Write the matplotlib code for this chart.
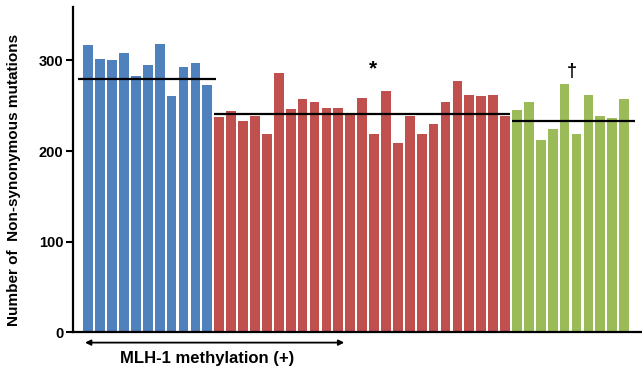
import numpy as np
import matplotlib
matplotlib.use('Agg')
import matplotlib.pyplot as plt
from matplotlib.transforms import blended_transform_factory

# bar heights, one list per group
blue_vals = [317, 302, 300, 308, 283, 295, 318, 261, 293, 297, 273]
red_vals = [238, 244, 233, 239, 219, 286, 246, 258, 254, 247, 248, 240, 259,
            219, 266, 209, 239, 219, 230, 254, 277, 262, 261, 262, 239]
green_vals = [245, 254, 212, 224, 274, 219, 262, 239, 237, 257]
group_levels = [280, 241, 233]   # horizontal reference lines per group
group_colors = ['#4F81BD', '#C0504D', '#9BBB59']
y_ticks = [0, 100, 200, 300]

plt.rcParams['font.family'] = ['Liberation Sans', 'DejaVu Sans']
plt.rcParams['font.weight'] = 'bold'

groups = [blue_vals, red_vals, green_vals]
vals = []
colors = []
for g, c in zip(groups, group_colors):
    vals += g
    colors += [c] * len(g)
x = np.arange(len(vals))

fig = plt.figure(figsize=(6.42, 3.68), dpi=100)
ax = fig.add_axes([0.1142, 0.097, 0.8858, 0.884])

ax.bar(x, vals, width=0.82, color=colors)

# group level lines
start = 0
pads = [(-0.85, 0.2), (-0.4, -0.1), (-0.45, 0.45)]
for g, lvl, (p0, p1) in zip(groups, group_levels, pads):
    end = start + len(g) - 1
    ax.hlines(lvl, start + p0, end + 0.5 + p1, color='black', lw=1.6)
    start = end + 1

ax.text(23.9, 291, '*', ha='center', va='center', fontsize=15, fontweight='bold')
ax.text(40.6, 288, '\u2020', ha='center', va='center', fontsize=13, fontweight='bold')

ax.set_xlim(-1.25, 46.5)
ax.set_ylim(0, 359)
for s in ['top', 'right']:
    ax.spines[s].set_visible(False)
for s in ['left', 'bottom']:
    ax.spines[s].set_linewidth(1.6)
ax.set_xticks([])
ax.set_yticks(y_ticks)
ax.tick_params(axis='y', length=5, width=1.5, labelsize=10.5, pad=2)
for lab in ax.get_yticklabels():
    lab.set_fontweight('bold')

fig.text(0.022, 0.51, 'Number of  Non-synonymous mutations', rotation=90,
         ha='center', va='center', fontsize=11, fontweight='bold')

# MLH-1 methylation arrow below the axis
trans = blended_transform_factory(ax.transData, fig.transFigure)
ax.annotate('', xy=(-0.27, 0.069), xytext=(21.5, 0.069), xycoords=trans,
            textcoords=trans, annotation_clip=False,
            arrowprops=dict(arrowstyle='<|-|>', lw=1.3, color='black',
                            mutation_scale=8, shrinkA=0, shrinkB=0))
ax.text(10.0, 0.027, 'MLH-1 methylation (+)', transform=trans, ha='center',
        va='center', fontsize=12, fontweight='bold')

fig.savefig('out.png', dpi=100)
